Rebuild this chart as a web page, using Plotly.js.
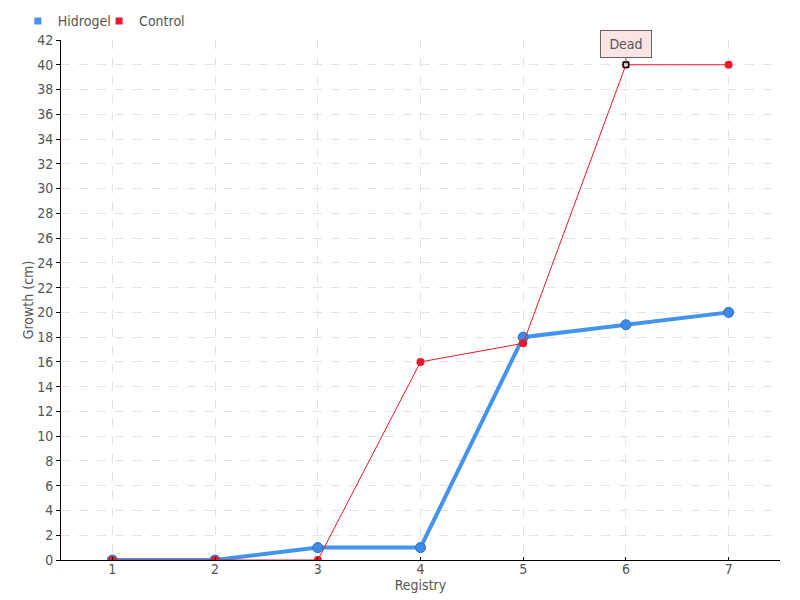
<!DOCTYPE html>
<html>
<head>
<meta charset="utf-8">
<script src="https://cdn.plot.ly/plotly-3.0.1.min.js"></script>
<style>html,body{margin:0;padding:0;background:#fff;}#chart{width:800px;height:600px;}</style>
</head>
<body>
<div id="chart"></div>
<script>
const registry = [1, 2, 3, 4, 5, 6, 7];
const hidrogel = [0, 0, 1, 1, 18, 19, 20];
const control = [0, 0, 0, 16, 17.5, 40, 40];
const seriesNames = ['Hidrogel', 'Control'];
const yTicks = [0,2,4,6,8,10,12,14,16,18,20,22,24,26,28,30,32,34,36,38,40,42];
const deadIndex = 5;
const deadLabel = 'Dead';

const FONT = '"DejaVu Sans Condensed", "DejaVu Sans", sans-serif';
const BLUE = '#4394ee';
const RED = '#e8192c';

const traces = [
  {
    x: registry, y: hidrogel, name: seriesNames[0], mode: 'lines+markers', showlegend: false,
    line: {color: BLUE, width: 4},
    marker: {color: '#3f8ae6', size: 10, line: {color: '#2a6fc4', width: 1}}
  },
  {
    x: registry, y: control, name: seriesNames[1], mode: 'lines+markers', showlegend: false,
    line: {color: RED, width: 1},
    marker: {color: RED, size: 8}
  },
  {
    x: [registry[deadIndex]], y: [control[deadIndex]], mode: 'markers', showlegend: false, hoverinfo: 'skip',
    marker: {symbol: 'square', color: '#ffffff', size: 5, line: {color: '#000000', width: 1.5}}
  },
  {
    x: [null], y: [null], name: seriesNames[0], mode: 'markers', legend: 'legend',
    marker: {symbol: 'square', color: BLUE, size: 7}
  },
  {
    x: [null], y: [null], name: seriesNames[1], mode: 'markers', legend: 'legend2',
    marker: {symbol: 'square', color: RED, size: 7}
  }
];

const legendBase = {orientation: 'h', y: 1.036, xanchor: 'left', yanchor: 'middle',
  font: {size: 14, color: '#555555'}, itemwidth: 30, bgcolor: 'rgba(0,0,0,0)'};

const layout = {
  width: 800, height: 600,
  margin: {l: 61, r: 20, t: 40, b: 40, autoexpand: false},
  paper_bgcolor: '#ffffff', plot_bgcolor: '#ffffff',
  font: {family: FONT, color: '#555555', size: 14},
  showlegend: true,
  legend: Object.assign({}, legendBase, {x: -0.06}),
  legend2: Object.assign({}, legendBase, {x: 0.053}),
  xaxis: {
    range: [0.5, 7.5], tickvals: registry, ticktext: registry.map(String),
    showline: true, linecolor: '#000000', linewidth: 1,
    ticks: 'inside', ticklen: 3, tickcolor: '#000000',
    ticklabelstandoff: -4,
    showgrid: true, gridcolor: '#e3e3e3', griddash: 'dash', gridwidth: 1,
    zeroline: false,
    title: {text: 'Registry', font: {size: 14, color: '#555555'}, standoff: 0},
    tickfont: {size: 14, color: '#555555'}
  },
  yaxis: {
    range: [0, 42], tickvals: yTicks, ticktext: yTicks.map(String),
    showline: true, linecolor: '#000000', linewidth: 1,
    ticks: 'outside', ticklen: 4, tickcolor: '#000000',
    showgrid: true, gridcolor: '#e3e3e3', griddash: 'dash', gridwidth: 1,
    zeroline: false,
    title: {text: 'Growth (cm)', font: {size: 14, color: '#555555'}, standoff: 0},
    tickfont: {size: 14, color: '#555555'}
  },
  annotations: [{
    x: registry[deadIndex], y: control[deadIndex], xref: 'x', yref: 'y',
    text: deadLabel, showarrow: true, arrowhead: 0, arrowwidth: 1, arrowcolor: '#666666',
    ax: 0, ay: -21, bgcolor: '#fde4e4', bordercolor: '#666666', borderwidth: 1, borderpad: 6,
    width: 38, height: 14,
    font: {size: 14, color: '#555555', family: FONT}
  }]
};

Plotly.newPlot('chart', traces, layout, {displayModeBar: false, staticPlot: true});
</script>
</body>
</html>
